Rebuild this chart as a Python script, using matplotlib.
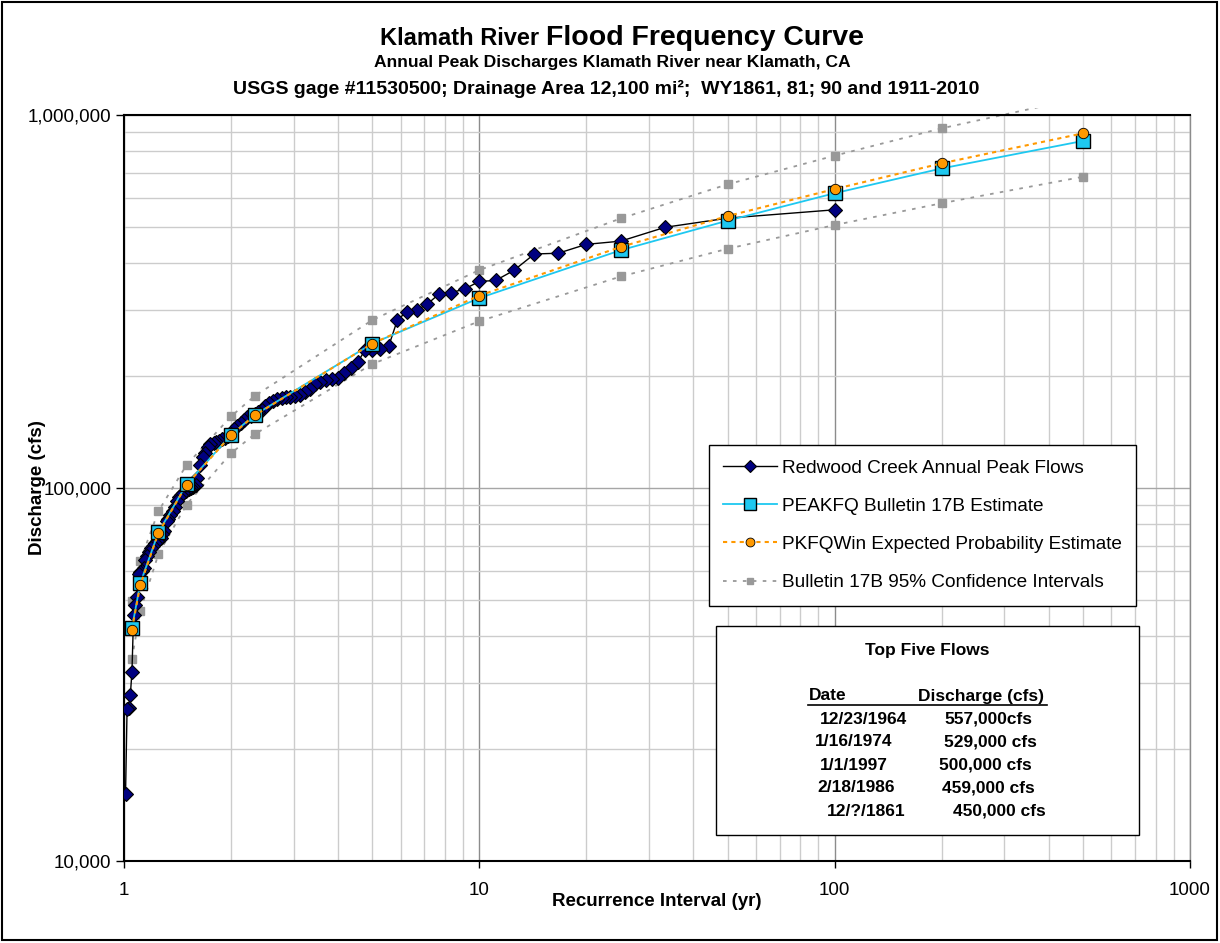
import matplotlib
matplotlib.use("Agg")
import matplotlib.pyplot as plt
from matplotlib.ticker import FixedLocator, NullFormatter, FixedFormatter, LogLocator
from matplotlib.transforms import Bbox, TransformedBbox
from matplotlib.patches import Rectangle
from matplotlib.lines import Line2D

plt.rcParams['font.family'] = ['Liberation Sans', 'DejaVu Sans']

# ---------------- data ----------------
# Observed annual peak flows: recurrence interval (yr) and discharge (cfs)
obs_T = [100, 50, 33.33, 25, 20, 16.67, 14.29, 12.5, 11.11, 10,
         9.09, 8.33, 7.69, 7.14, 6.67, 6.25, 5.88, 5.56, 5.26, 5,
         4.76, 4.55, 4.35, 4.17, 4, 3.85, 3.70, 3.57, 3.45, 3.33,
         3.23, 3.13, 3.03, 2.94, 2.86, 2.78, 2.70, 2.63, 2.56, 2.5,
         2.44, 2.38, 2.33, 2.27, 2.22, 2.17, 2.13, 2.08, 2.04, 2,
         1.96, 1.92, 1.89, 1.85, 1.82, 1.79, 1.75, 1.72, 1.69, 1.67,
         1.64, 1.61, 1.59, 1.56, 1.54, 1.52, 1.49, 1.47, 1.45, 1.43,
         1.41, 1.39, 1.37, 1.35, 1.33, 1.32, 1.30, 1.28, 1.27, 1.25,
         1.235, 1.22, 1.205, 1.19, 1.176, 1.163, 1.149, 1.136, 1.124, 1.111,
         1.099, 1.087, 1.075, 1.064, 1.053, 1.042, 1.031, 1.020, 1.010]
obs_Q = [557000, 529000, 500000, 459000, 450000, 426000, 424000, 383000, 360000, 358000,
         341600, 333900, 330600, 311400, 300000, 297000, 282100, 240300, 236000, 235100,
         233700, 217700, 209800, 203400, 197200, 196000, 194700, 192400, 190000, 184200,
         180800, 177500, 176400, 175000, 175400, 174300, 173300, 171100, 169000, 165900,
         161900, 159900, 157900, 156000, 155000, 152200, 149400, 146600, 143900, 139600,
         137800, 136100, 135300, 133700, 132800, 132000, 131200, 128800, 124100, 121100,
         115300, 106400, 101900, 100600, 100000, 99400, 98200, 97000, 95800, 94600,
         92300, 88900, 86700, 84600, 82600, 81500, 76700, 75300, 73500, 73000,
         72100, 71200, 69900, 69000, 67400, 65700, 64100, 61000, 59900, 59500,
         58800, 51000, 48600, 45600, 32200, 27900, 25700, 25500, 15100]

# Frequency curve estimates
est_T = [1.0526, 1.111, 1.25, 1.5, 2, 2.33, 5, 10, 25, 50, 100, 200, 500]
peakfq_Q = [42100, 55500, 76100, 102300, 138700, 156900, 244000, 323000, 434000,
            521000, 617000, 719000, 852000]
expprob_Q = [41700, 54900, 75800, 102000, 138300, 156500, 244000, 328000, 443000,
             536000, 633000, 742000, 893000]
ci_upper_Q = [49800, 63800, 86700, 115300, 155500, 176400, 282000, 384000, 528000,
              652000, 778000, 921000, 1115000]
ci_lower_Q = [34800, 46800, 66500, 90300, 123900, 139300, 215000, 280000, 369000,
              438000, 507000, 580000, 683000]

legend_labels = ["Redwood Creek Annual Peak Flows",
                 "PEAKFQ Bulletin 17B Estimate",
                 "PKFQWin Expected Probability Estimate",
                 "Bulletin 17B 95% Confidence Intervals"]

top_dates = ["12/23/1964", "1/16/1974", "1/1/1997", "2/18/1986", "12/?/1861"]
top_flows = ["557,000cfs", "529,000 cfs", "500,000 cfs", "459,000 cfs", "450,000 cfs"]

x_ticks = [1, 10, 100, 1000]
x_ticklabels = ["1", "10", "100", "1000"]
y_ticks = [10000, 100000, 1000000]
y_ticklabels = ["10,000", "100,000", "1,000,000"]

# ---------------- figure ----------------
W, H = 1220, 943
fig = plt.figure(figsize=(W / 100, H / 100), dpi=100)
fig.patch.set_facecolor("white")

def fx(x):
    return x / W

def fy(y):
    return 1 - y / H

ax_l, ax_r, ax_t, ax_b = 124, 1190, 115, 861
ax = fig.add_axes([fx(ax_l), fy(ax_b), (ax_r - ax_l) / W, (ax_b - ax_t) / H])
ax.set_xscale("log")
ax.set_yscale("log")
ax.set_xlim(1, 1000)
ax.set_ylim(10000, 1000000)

# grid
ax.xaxis.set_major_locator(FixedLocator(x_ticks))
ax.xaxis.set_major_formatter(FixedFormatter(x_ticklabels))
ax.yaxis.set_major_locator(FixedLocator(y_ticks))
ax.yaxis.set_major_formatter(FixedFormatter(y_ticklabels))
ax.xaxis.set_minor_locator(LogLocator(base=10, subs=range(2, 10)))
ax.yaxis.set_minor_locator(LogLocator(base=10, subs=range(2, 10)))
ax.xaxis.set_minor_formatter(NullFormatter())
ax.yaxis.set_minor_formatter(NullFormatter())
ax.grid(which="minor", axis="both", color="#cccccc", lw=1.0, zorder=0)
ax.grid(which="major", axis="x", color="#8c8c8c", lw=1.0, zorder=0)
ax.grid(which="major", axis="y", color="#a6a6a6", lw=1.0, zorder=0)
ax.set_axisbelow(True)
ax.tick_params(which="minor", length=0)
ax.tick_params(which="major", axis="y", length=6, width=1, direction="out",
               labelsize=13.5, pad=3, color="black")
ax.tick_params(which="major", axis="x", length=5, width=1, direction="out",
               labelsize=13.5, pad=10, color="black")

for s in ["left", "bottom", "top"]:
    ax.spines[s].set_color("black")
    ax.spines[s].set_linewidth(1.5)
ax.spines["right"].set_color("#8c8c8c")
ax.spines["right"].set_linewidth(1.0)

# series
l_obs, = ax.plot(obs_T, obs_Q, color="black", lw=1.0, marker="D", markersize=7,
                 markerfacecolor="#000080", markeredgecolor="black",
                 markeredgewidth=0.8, zorder=3)
l_ciu, = ax.plot(est_T, ci_upper_Q, color="#999999", lw=1.3, ls=(0, (2, 3.5)),
                 marker="s", markersize=5.5, markerfacecolor="#999999",
                 markeredgecolor="#999999", zorder=2)
l_cil, = ax.plot(est_T, ci_lower_Q, color="#999999", lw=1.3, ls=(0, (2, 3.5)),
                 marker="s", markersize=5.5, markerfacecolor="#999999",
                 markeredgecolor="#999999", zorder=2)
l_pk, = ax.plot(est_T, peakfq_Q, color="#1ec8f0", lw=1.3, marker="s",
                markersize=10, markerfacecolor="#1ec8f0", markeredgecolor="black",
                markeredgewidth=1.0, zorder=4)
l_ep, = ax.plot(est_T, expprob_Q, color="#ff9900", lw=1.5, ls=(0, (2, 2)),
                marker="o", markersize=7.5, markerfacecolor="#ff9900",
                markeredgecolor="black", markeredgewidth=0.6, zorder=5)

# let the upper confidence line run slightly above the plot area (as in the source)
ext = 7 / (ax_b - ax_t)
l_ciu.set_clip_box(TransformedBbox(Bbox([[0, 0], [1, 1 + ext]]), ax.transAxes))

# axis labels
fig.text(fx(657), fy(902), "Recurrence Interval (yr)", ha="center", va="center",
         fontsize=13.5, fontweight="bold")
fig.text(fx(37), fy(488), "Discharge (cfs)", ha="center", va="center",
         rotation=90, fontsize=13.5, fontweight="bold")

# titles
fig.text(fx(546), fy(45), "Klamath River ", ha="right", va="baseline",
         fontsize=17, fontweight="bold")
fig.text(fx(546), fy(45), "Flood Frequency Curve", ha="left", va="baseline",
         fontsize=20.5, fontweight="bold")
fig.text(fx(612), fy(62), "Annual Peak Discharges Klamath River near Klamath, CA",
         ha="center", va="center", fontsize=12.6, fontweight="bold")
fig.text(fx(606), fy(89),
         "USGS gage #11530500; Drainage Area 12,100 mi\u00b2;  WY1861, 81; 90 and 1911-2010",
         ha="center", va="center", fontsize=14, fontweight="bold")

# legend
leg = ax.legend([l_obs, l_pk, l_ep, l_ciu], legend_labels,
                loc="upper left",
                bbox_to_anchor=((709 - ax_l) / (ax_r - ax_l), (ax_b - 445) / (ax_b - ax_t)),
                borderaxespad=0, fontsize=13.7, frameon=True, fancybox=False,
                edgecolor="black", framealpha=1, numpoints=1,
                handlelength=2.8, handletextpad=0.3, labelspacing=1.1,
                borderpad=0.75, markerscale=0.85)
leg.get_frame().set_linewidth(1.0)
leg.set_zorder(10)

# Top five flows box
box = Rectangle((fx(716), fy(835)), (1139 - 716) / W, (835 - 626) / H,
                transform=fig.transFigure, facecolor="white", edgecolor="black",
                lw=1.0, zorder=5)
fig.patches.append(box)
fig.text(fx(927), fy(651), "Top Five Flows", ha="center", va="center",
         fontsize=12.5, fontweight="bold", zorder=6)
fig.text(fx(809), fy(696), "Date", ha="left", va="center", fontsize=12.5,
         fontweight="bold", zorder=6)
fig.text(fx(918), fy(696), "Discharge (cfs)", ha="left", va="center", fontsize=12.5,
         fontweight="bold", zorder=6)
fig.add_artist(Line2D([fx(808), fx(1047)], [fy(704.5), fy(704.5)],
                      transform=fig.transFigure, color="black", lw=1.2, zorder=6))
date_x = [820, 815, 820, 817, 827]
flow_x = [944, 944, 939, 942, 953]
row_y = [719, 742, 765, 788, 811]
for d, f, dx, fxx, ry in zip(top_dates, top_flows, date_x, flow_x, row_y):
    fig.text(fx(dx), fy(ry), d, ha="left", va="center", fontsize=12.5,
             fontweight="bold", zorder=6)
    fig.text(fx(fxx), fy(ry), f, ha="left", va="center", fontsize=12.5,
             fontweight="bold", zorder=6)

# outer chart border
fig.patches.append(Rectangle((fx(2), fy(940)), (1217 - 2) / W, (940 - 2) / H,
                             transform=fig.transFigure, facecolor="none",
                             edgecolor="black", lw=1.5, zorder=7))

fig.savefig("out.png", dpi=100, facecolor="white")
